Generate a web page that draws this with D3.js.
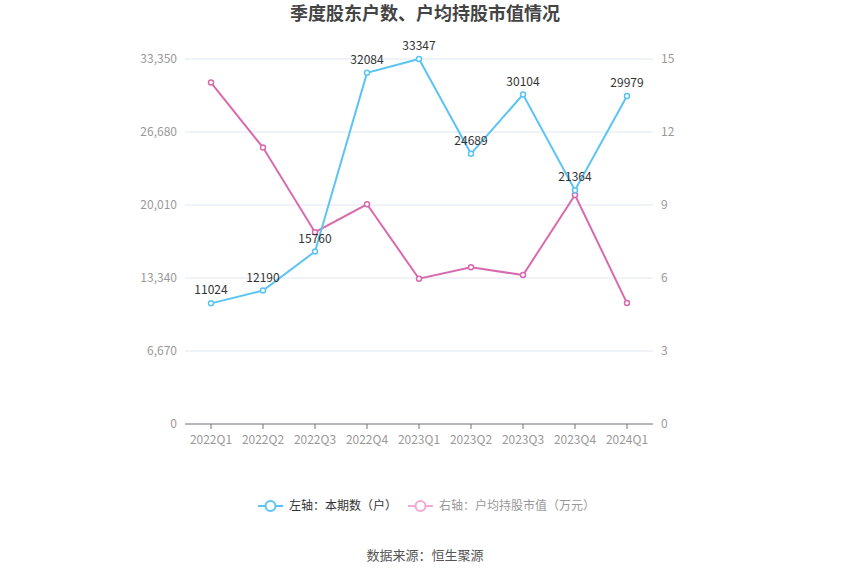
<!DOCTYPE html>
<html><head><meta charset="utf-8">
<script src="https://cdn.jsdelivr.net/npm/d3@7"></script>
<style>body{margin:0;background:#fff;font-family:"Noto Sans CJK SC","Noto Sans",sans-serif;}</style>
</head><body><svg id="c" width="850" height="575"></svg>
<script>
const categories = ["2022Q1","2022Q2","2022Q3","2022Q4","2023Q1","2023Q2","2023Q3","2023Q4","2024Q1"];
const holders = [11024,12190,15760,32084,33347,24689,30104,21364,29979];
const avgValue = [14.03,11.36,7.88,9.03,5.97,6.44,6.12,9.41,4.97];
const leftTicks = [0,6670,13340,20010,26680,33350];
const rightTicks = [0,3,6,9,12,15];
const title = "季度股东户数、户均持股市值情况";
const legendNames = ["左轴：本期数（户）","右轴：户均持股市值（万元）"];
const source = "数据来源：恒生聚源";

const svg = d3.select("#c");
const L=185,R=653,T=59,B=424;
const x = d3.scaleBand().domain(categories).range([L,R]);
const yL = d3.scaleLinear().domain([0,33350]).range([B,T]);
const yR = d3.scaleLinear().domain([0,15]).range([B,T]);
const blue="#5bc4f5", pink="#d86aae";
const font='"Noto Sans CJK SC","Noto Sans",sans-serif';

svg.append("text").attr("x",425).attr("y",20).attr("text-anchor","middle")
  .attr("font-size",18).attr("font-weight","bold").attr("fill","#444").attr("font-family",font).text(title);

// grid
svg.append("g").selectAll("line").data(leftTicks.slice(1)).join("line")
  .attr("x1",L).attr("x2",R).attr("y1",d=>yL(d)).attr("y2",d=>yL(d))
  .attr("stroke","#e0e6f1").attr("stroke-width",1);

// axis labels
svg.append("g").selectAll("text").data(leftTicks).join("text")
  .attr("x",L-8).attr("y",d=>yL(d)).attr("dy","0.35em").attr("text-anchor","end")
  .attr("font-size",12).attr("fill","#999").attr("font-family",font).text(d=>d3.format(",")(d));
svg.append("g").selectAll("text").data(rightTicks).join("text")
  .attr("x",R+8).attr("y",d=>yR(d)).attr("dy","0.35em").attr("text-anchor","start")
  .attr("font-size",12).attr("fill","#999").attr("font-family",font).text(d=>d);

// x axis
const xa = svg.append("g").attr("transform",`translate(0,${B})`);
xa.append("line").attr("x1",L).attr("x2",R).attr("stroke","#6e7079");
xa.selectAll("line.t").data(categories).join("line").attr("class","t")
  .attr("x1",d=>x(d)+x.bandwidth()/2).attr("x2",d=>x(d)+x.bandwidth()/2).attr("y1",0).attr("y2",5).attr("stroke","#6e7079");
xa.selectAll("text").data(categories).join("text")
  .attr("x",d=>x(d)+x.bandwidth()/2).attr("y",20).attr("text-anchor","middle")
  .attr("font-size",12).attr("fill","#999").attr("font-family",font).text(d=>d);

const cx = (d,i)=>x(categories[i])+x.bandwidth()/2;
svg.append("path").datum(avgValue).attr("fill","none").attr("stroke",pink).attr("stroke-width",2)
  .attr("d",d3.line().x(cx).y(d=>yR(d)));
svg.append("path").datum(holders).attr("fill","none").attr("stroke",blue).attr("stroke-width",2)
  .attr("d",d3.line().x(cx).y(d=>yL(d)));
svg.append("g").selectAll("circle").data(avgValue).join("circle")
  .attr("cx",cx).attr("cy",d=>yR(d)).attr("r",2.5).attr("fill","#fff").attr("stroke",pink).attr("stroke-width",1.5);
svg.append("g").selectAll("circle").data(holders).join("circle")
  .attr("cx",cx).attr("cy",d=>yL(d)).attr("r",2.5).attr("fill","#fff").attr("stroke",blue).attr("stroke-width",1.5);
svg.append("g").selectAll("text").data(holders).join("text")
  .attr("x",cx).attr("y",d=>yL(d)-9).attr("text-anchor","middle")
  .attr("font-size",12).attr("fill","#333").attr("font-family",font).text(d=>d);

// legend
function leg(x0,color,txt,tc){
  const g=svg.append("g");
  g.append("line").attr("x1",x0).attr("x2",x0+25).attr("y1",506).attr("y2",506).attr("stroke",color).attr("stroke-width",2);
  g.append("circle").attr("cx",x0+12.5).attr("cy",506).attr("r",5).attr("fill","#fff").attr("stroke",color).attr("stroke-width",2);
  g.append("text").attr("x",x0+31).attr("y",506).attr("dy","0.35em").attr("font-size",12).attr("fill",tc).attr("font-family",font).text(txt);
}
leg(258,blue,legendNames[0],"#333");
leg(408,"#eeaad6",legendNames[1],"#999");

svg.append("text").attr("x",425).attr("y",555).attr("dy","0.35em").attr("text-anchor","middle")
  .attr("font-size",13).attr("fill","#555").attr("font-family",font).text(source);
</script></body></html>
